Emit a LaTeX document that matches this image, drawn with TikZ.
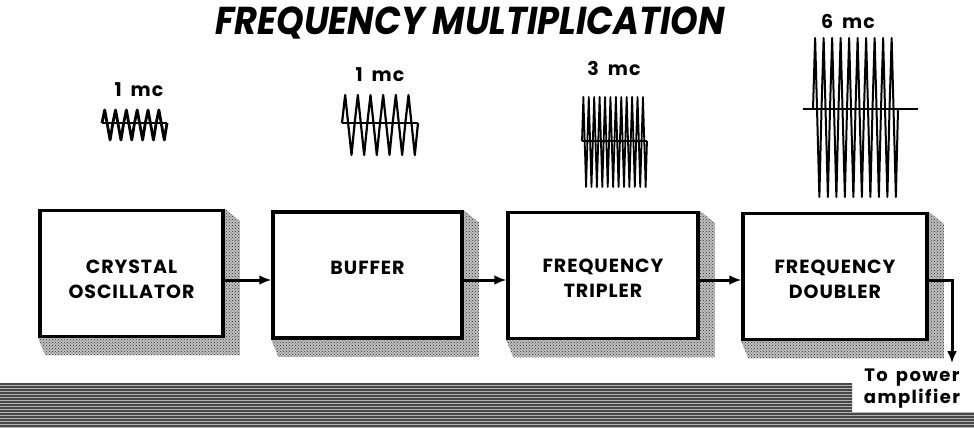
\documentclass[tikz,border=0pt]{standalone}
\usepackage{fontspec}
\setmainfont{Poppins}
\usetikzlibrary{positioning,patterns,arrows.meta,calc}

% zigzag carrier: x0, x1, baseline, up, down, cycles
\newcommand{\wavetrain}[6]{%
  \pgfmathsetmacro{\wp}{(#2-#1)/#6}
  \draw[wave] (#1,#3) \foreach \c in {1,...,#6}{ -- ++(\wp/4,-#4) -- ++(\wp/2,#4+#5) -- ++(\wp/4,-#5)};
}
% stippled drop shadow behind a block
\newcommand{\dropshadow}[1]{%
  \fill[black!25] (#1.north east) -- ++(15,12) -- ($(#1.south east)+(15,17)$)
    -- ($(#1.south west)+(7,17)$) -- (#1.south west) -- cycle;
  \fill[stipple] (#1.north east) -- ++(15,12) -- ($(#1.south east)+(15,17)$)
    -- ($(#1.south west)+(7,17)$) -- (#1.south west) -- cycle;
}

\tikzset{
  block/.style={draw, line width=3.5pt, fill=white, minimum height=126pt, inner sep=0pt},
  stipple/.style={pattern=crosshatch dots, pattern color=black!80},
  blocklabel/.style={font=\fontsize{19}{25}\selectfont\bfseries\addfontfeatures{LetterSpace=5}, align=center, anchor=north},
  freq/.style={font=\fontsize{19}{20}\selectfont\bfseries\addfontfeatures{LetterSpace=6}},
  wave/.style={line width=2.2pt, line join=round},
  link/.style={line width=3pt, -{Latex[length=12pt,width=10pt]}},
}

\begin{document}
\begin{tikzpicture}[x=1pt, y=-1pt]
  \useasboundingbox (0,0) rectangle (974,428);

  % Title
  \node (title) at (470,23) {\scalebox{0.95}[1.05]{\fontsize{37}{40}\selectfont\bfseries\itshape FREQUENCY MULTIPLICATION}};

  % Waveforms
  \node[freq] (f1) at (139,90) {1\hspace{9pt}mc};
  \begin{scope}[wave/.append style={line width=2.8pt}]
    \wavetrain{102}{167}{123}{13}{17}{6}
    \draw[wave] (102,123) -- (167,123);
  \end{scope}
  \node[freq] (f2) at (380,75) {1\hspace{9pt}mc};
  \wavetrain{342}{418}{123}{28}{32}{6}
  \draw[wave] (342,123) -- (418,123);
  \node[freq] (f3) at (614,68) {3\hspace{9pt}mc};
  \begin{scope}[wave/.append style={line width=1.8pt}]
    \wavetrain{582}{647}{141}{44}{46}{12}
    \draw[wave, line width=2.6pt] (582,141) -- (647,141);
  \end{scope}
  \node[freq] (f4) at (848,21) {6\hspace{9pt}mc};
  \begin{scope}[wave/.append style={line width=2pt}]
    \wavetrain{813}{898}{109}{71}{88}{10}
    \draw[wave] (803,109) -- (918,109);
  \end{scope}

  % Shadows and blocks
  \coordinate (c1) at (131.5,273.5);
  \coordinate (c2) at (367.5,275);
  \coordinate (c3) at (603,275.5);
  \coordinate (c4) at (835,276.5);
  \path (c1) node[block, minimum width=183pt] (osc) {};
  \path (c2) node[block, minimum width=189pt] (buf) {};
  \path (c3) node[block, minimum width=190pt] (trip) {};
  \path (c4) node[block, minimum width=184pt] (doub) {};
  \dropshadow{osc}
  \dropshadow{buf}
  \dropshadow{trip}
  \dropshadow{doub}
  \path (c1) node[block, minimum width=183pt] (osc) {};
  \path (c2) node[block, minimum width=189pt] (buf) {};
  \path (c3) node[block, minimum width=190pt] (trip) {};
  \path (c4) node[block, minimum width=184pt] (doub) {};

  % Labels
  \node[blocklabel, below=48pt of osc.north] (oscl) {CRYSTAL\\OSCILLATOR};
  \node[blocklabel, below=47pt of buf.north] (bufl) {BUFFER};
  \node[blocklabel, below=45pt of trip.north] (tripl) {FREQUENCY\\TRIPLER};
  \node[blocklabel, below=45pt of doub.north] (doubl) {FREQUENCY\\DOUBLER};

  % Connectors
  \draw[link] ([yshift=-6.5pt]osc.east) -- ([yshift=-5pt]buf.west);
  \draw[link] ([yshift=-5pt]buf.east) -- ([yshift=-4.5pt]trip.west);
  \draw[link] ([yshift=-4.5pt]trip.east) -- ([yshift=-3.5pt]doub.west);
  \coordinate (out) at (952,363);
  \draw[link] ([yshift=-3.5pt]doub.east) -| (out);

  % Ground band
  \fill[black!72] (0,383) -- (852,383) -- (852,412) -- (974,412) -- (974,428) -- (0,428) -- cycle;
  \fill[pattern=horizontal lines, pattern color=black!30] (0,383) -- (852,383) -- (852,412) -- (974,412) -- (974,428) -- (0,428) -- cycle;

  \node[font=\fontsize{18}{22}\selectfont\bfseries\addfontfeatures{LetterSpace=8}, align=center, anchor=north] (dest) at (912,365) {To\hspace{8pt}power\\amplifier};
\end{tikzpicture}
\end{document}
